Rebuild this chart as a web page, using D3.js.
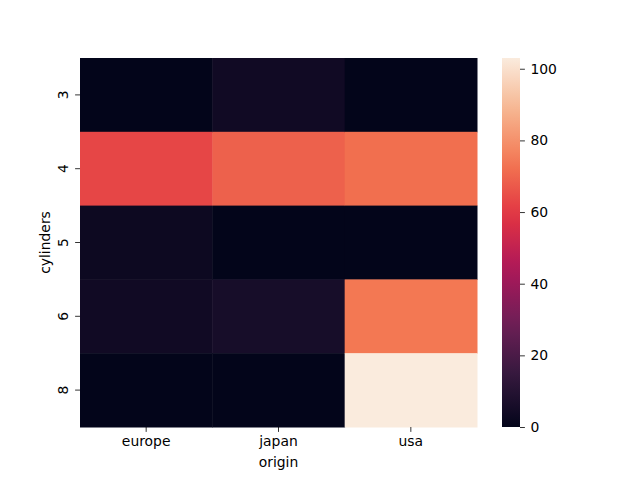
<!DOCTYPE html>
<html><head><meta charset="utf-8">
<script src="https://cdn.jsdelivr.net/npm/d3@7"></script>
<style>body{margin:0;background:#fff}text{font-family:"DejaVu Sans",sans-serif;fill:#000}</style>
</head><body>
<svg id="c" width="640" height="480"></svg>
<script>
const origins = ["europe", "japan", "usa"];
const cylinders = ["3", "4", "5", "6", "8"];
const europe = [0, 63, 3, 4, 0];
const japan = [4, 69, 0, 6, 0];
const usa = [0, 72, 0, 74, 103];
const cbarTicks = [0, 20, 40, 60, 80, 100];
const vmax = 103;

const rocketStops = ["#03051a","#35193e","#701f57","#ad1759","#e13342","#f37651","#f6b48f","#faebdd"];
const rocket = d3.scaleLinear().domain(rocketStops.map((d,i)=>i/(rocketStops.length-1))).range(rocketStops).interpolate(d3.interpolateRgb);
const color = v => rocket(v / vmax);

const svg = d3.select("#c");
const L=80, R=477, T=58, B=427;
const x = d3.scaleBand().domain(origins).range([L,R]);
const y = d3.scaleBand().domain(cylinders).range([T,B]);
const series = {europe, japan, usa};
const cells = [];
origins.forEach(o => cylinders.forEach((c,i) => cells.push({o, c, v: series[o][i]})));
svg.append("g").selectAll("rect").data(cells).join("rect")
  .attr("x", d=>x(d.o)).attr("y", d=>y(d.c))
  .attr("width", x.bandwidth()+0.5).attr("height", y.bandwidth()+0.5)
  .attr("fill", d=>color(d.v));

const fs = "13.9px";
const xa = svg.append("g").attr("transform",`translate(0,${B})`)
  .call(d3.axisBottom(x).tickSize(4.9).tickPadding(4));
xa.select(".domain").remove();
xa.selectAll("text").style("font-size",fs).attr("font-family","DejaVu Sans");
xa.selectAll("line").attr("stroke","#000").attr("stroke-width",0.8);

const ya = svg.append("g").attr("transform",`translate(${L},0)`)
  .call(d3.axisLeft(y).tickSize(4.9).tickPadding(4));
ya.select(".domain").remove();
ya.selectAll("line").attr("stroke","#000").attr("stroke-width",0.8);
ya.selectAll("text").style("font-size",fs).attr("font-family","DejaVu Sans")
  .attr("x",null).attr("dy",null)
  .attr("text-anchor","middle")
  .attr("transform","translate(-17,0) rotate(-90)")
  .attr("dominant-baseline","central");

svg.append("text").attr("x",(L+R)/2).attr("y",467).attr("text-anchor","middle")
  .style("font-size",fs).text("origin");
svg.append("text").attr("transform",`translate(45,${(T+B)/2}) rotate(-90)`).attr("text-anchor","middle")
  .attr("dominant-baseline","central")
  .style("font-size",fs).text("cylinders");

// colorbar
const cx0=502, cx1=520;
const cy = d3.scaleLinear().domain([0,vmax]).range([B,T]);
const defs = svg.append("defs");
const grad = defs.append("linearGradient").attr("id","cb").attr("x1",0).attr("x2",0).attr("y1",1).attr("y2",0);
d3.range(0,1.0001,0.05).forEach(t=>grad.append("stop").attr("offset",t).attr("stop-color",rocket(t)));
svg.append("rect").attr("x",cx0).attr("y",T).attr("width",cx1-cx0).attr("height",B-T).attr("fill","url(#cb)");
const ca = svg.append("g").attr("transform",`translate(${cx1},0)`)
  .call(d3.axisRight(cy).tickValues(cbarTicks).tickSize(4.9).tickPadding(5.5));
ca.select(".domain").remove();
ca.selectAll("line").attr("stroke","#000").attr("stroke-width",0.8);
ca.selectAll("text").style("font-size",fs).attr("font-family","DejaVu Sans");
</script>
</body></html>
